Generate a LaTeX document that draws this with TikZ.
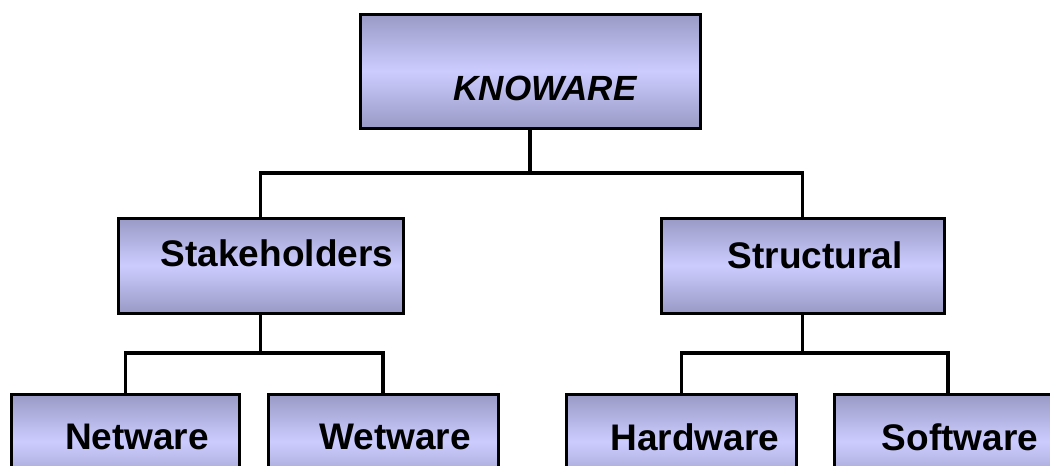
\documentclass[tikz,border=0pt]{standalone}
\usepackage{fontspec}
\setmainfont{Liberation Sans}
\definecolor{boxedge}{RGB}{154,154,198}
\definecolor{boxmid}{RGB}{204,204,255}
\tikzset{
  box/.style={draw=black, line width=3pt, top color=boxedge, bottom color=boxedge, middle color=boxmid, inner sep=0pt},
  lbl/.style={inner sep=0pt, font=\bfseries\fontsize{37}{40}\selectfont},
  link/.style={line width=3.2pt}
}
\begin{document}
\begin{tikzpicture}[x=1pt,y=-1pt]
\useasboundingbox (0,0) rectangle (1050,466);
% top
\node[box, minimum width=340pt, minimum height=114pt] (know) at (530,71){};
\node[lbl, font=\bfseries\itshape\fontsize{35}{38}\selectfont] (knowT) at (545,88){KNOWARE};
% second row
\node[box, minimum width=285pt, minimum height=95pt] (stake) at (260.5,265.5){};
\node[lbl] (stakeT) at (277,253){Stakeholders};
\node[box, minimum width=283pt, minimum height=95pt] (struc) at (802.5,265.5){};
\node[lbl] (strucT) at (815,255){Structural};
% third row
\node[box, minimum width=228pt, minimum height=95pt] (net) at (125.5,441.5){};
\node[lbl] (netT) at (137,437){Netware};
\node[box, minimum width=230pt, minimum height=95pt] (wet) at (383,441.5){};
\node[lbl] (wetT) at (395,437){Wetware};
\node[box, minimum width=230pt, minimum height=95pt] (hard) at (681.5,441.5){};
\node[lbl] (hardT) at (695,437){Hardware};
\node[box, minimum width=228pt, minimum height=95pt] (soft) at (948,441.5){};
\node[lbl] (softT) at (960,437){Software};
% links
\coordinate (j0) at (530,173);
\coordinate (j1) at (260.5,353);
\coordinate (j2) at (802.5,353);
\draw[link](know.south) -- (j0);
\draw[link](j0) -| (stake.north);
\draw[link](j0) -| (struc.north);
\draw[link](stake.south) -- (j1);
\draw[link](j1) -| (net.north);
\draw[link](j1) -| (wet.north);
\draw[link](struc.south) -- (j2);
\draw[link](j2) -| (hard.north);
\draw[link](j2) -| (soft.north);
\end{tikzpicture}
\end{document}
